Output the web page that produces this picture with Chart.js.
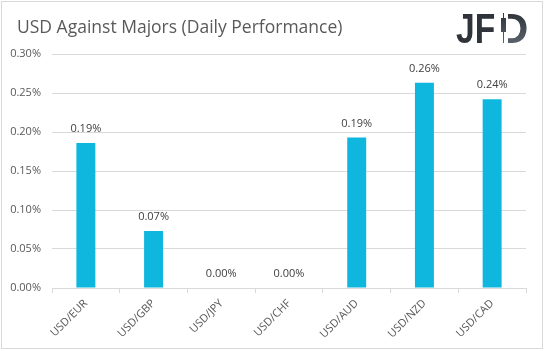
<!DOCTYPE html>
<html>
<head>
<meta charset="utf-8">
<script src="https://cdn.jsdelivr.net/npm/chart.js@4.4.0/dist/chart.umd.min.js"></script>
<style>
html, body { margin: 0; padding: 0; background: #fff; }
#wrap { width: 545px; height: 351px; position: relative; }
</style>
</head>
<body>
<div id="wrap"><canvas id="grafico" width="545" height="351"></canvas></div>
<script>
// datos (en %)
var pares = ["USD/EUR", "USD/GBP", "USD/JPY", "USD/CHF", "USD/AUD", "USD/NZD", "USD/CAD"];
var rendimiento = [0.186, 0.073, 0.0, 0.0, 0.193, 0.263, 0.242];
var ticksY = [0, 0.05, 0.10, 0.15, 0.20, 0.25, 0.30];
var titulo = "USD Against Majors (Daily Performance)";

var fuente = '"Open Sans", "Liberation Sans", sans-serif';

/* etiquetas encima de las barras */
var etiquetas = {
    id: 'etiquetas',
    afterDatasetsDraw: function(chart) {
        var ctx = chart.ctx;
        var meta = chart.getDatasetMeta(0);
        ctx.save();
        ctx.font = '11px ' + fuente;
        ctx.fillStyle = '#404040';
        ctx.textAlign = 'center';
        ctx.textBaseline = 'middle';
        meta.data.forEach(function(bar, i) {
            ctx.fillText(rendimiento[i].toFixed(2) + '%', bar.x, bar.y - 14);
        });
        ctx.restore();
    }
};

/* titulo, logo y marco */
var cabecera = {
    id: 'cabecera',
    afterDraw: function(chart) {
        var ctx = chart.ctx;
        ctx.save();
        ctx.strokeStyle = '#d9d9d9';
        ctx.lineWidth = 1;
        ctx.strokeRect(1.5, 1.5, 541, 347);

        ctx.font = '17.5px ' + fuente;
        ctx.fillStyle = '#595959';
        ctx.textAlign = 'left';
        ctx.textBaseline = 'alphabetic';
        ctx.fillText(titulo, 17, 33);

        // logo JFD (la D lleva una vela en el trazo vertical)
        var grad = ctx.createLinearGradient(0, 13, 0, 43);
        grad.addColorStop(0, '#2f343b');
        grad.addColorStop(1, '#5a616b');
        ctx.font = 'bold 42px "Liberation Sans", sans-serif';
        ctx.fillStyle = grad;
        ctx.save();
        ctx.translate(456, 43);
        ctx.scale(0.8, 1);
        ctx.fillText("JF", 0, 0);
        ctx.restore();
        ctx.fillText("D", 498, 43);
        ctx.fillStyle = '#fff';
        ctx.fillRect(499, 10, 9, 36);
        ctx.fillStyle = grad;
        ctx.fillRect(503, 13, 1, 30);
        ctx.fillRect(501, 18, 5, 14);
        ctx.restore();
    }
};

var ctxGrafico = document.getElementById("grafico");

var grafico = new Chart(ctxGrafico, {
    type: 'bar',
    data: {
        labels: pares,
        datasets: [{
            label: 'Rendimiento',
            data: rendimiento,
            backgroundColor: '#0fb7de',
            borderWidth: 0,
            barPercentage: 0.28,
            categoryPercentage: 1
        }]
    },
    options: {
        responsive: false,
        animation: false,
        maintainAspectRatio: false,
        layout: { padding: { top: 54, right: 19, left: 0, bottom: 0 } },
        plugins: {
            legend: { display: false },
            tooltip: { enabled: false }
        },
        scales: {
            x: {
                afterFit: function(scale) { scale.height = 63; },
                grid: {
                    offset: true,
                    drawOnChartArea: false,
                    color: '#d9d9d9',
                    tickLength: 5
                },
                border: { color: '#d9d9d9' },
                ticks: {
                    minRotation: 45,
                    maxRotation: 45,
                    padding: 4,
                    color: '#595959',
                    font: { family: fuente, size: 11 }
                }
            },
            y: {
                min: 0,
                max: 0.30,
                afterFit: function(scale) { scale.width = 52; },
                afterBuildTicks: function(scale) {
                    scale.ticks = ticksY.map(function(v) { return { value: v }; });
                },
                grid: { color: '#d9d9d9', drawTicks: false },
                border: { display: false },
                ticks: {
                    padding: 11,
                    color: '#595959',
                    font: { family: fuente, size: 11 },
                    callback: function(v) { return v.toFixed(2) + '%'; }
                }
            }
        }
    },
    plugins: [etiquetas, cabecera]
});
</script>
</body>
</html>
